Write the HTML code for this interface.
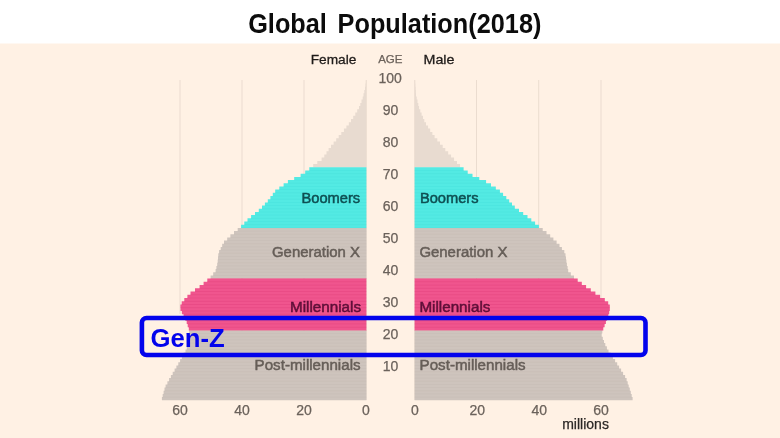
<!DOCTYPE html>
<html><head><meta charset="utf-8"><title>Global Population(2018)</title>
<style>
html,body{margin:0;padding:0;background:#fff;}
body{width:780px;height:438px;overflow:hidden;position:relative;font-family:"Liberation Sans",Arial,sans-serif;}
#chart{position:absolute;left:0;top:0;}
svg text{font-family:"Liberation Sans",Arial,sans-serif;}
</style></head><body>
<svg id="chart" width="780" height="438" viewBox="0 0 780 438">
<defs><linearGradient id="tg" x1="0" y1="0" x2="0" y2="1"><stop offset="0" stop-color="#fff"/><stop offset="1" stop-color="#FFF1E4"/></linearGradient><filter id="bl" x="-2%" y="-2%" width="104%" height="104%"><feGaussianBlur stdDeviation="0.45"/></filter></defs>
<rect x="0" y="44" width="780" height="394" fill="#FFF1E4"/>
<rect x="0" y="42.5" width="780" height="2" fill="url(#tg)"/>
<g id="grid"><rect x="179.5" y="80" width="1" height="234" fill="#EBDCCF"/><rect x="241.5" y="80" width="1" height="320" fill="#EBDCCF"/><rect x="303.5" y="80" width="1" height="320" fill="#EBDCCF"/><rect x="365.7" y="80" width="1" height="320" fill="#EBDCCF"/><rect x="414.3" y="80" width="1" height="320" fill="#EBDCCF"/><rect x="476.0" y="80" width="1" height="320" fill="#EBDCCF"/><rect x="538.2" y="80" width="1" height="320" fill="#EBDCCF"/><rect x="600.5" y="80" width="1" height="320" fill="#EBDCCF"/></g>
<g id="bars" filter="url(#bl)"><path d="M366.4,80.3L365.9,80.3L365.9,83.5L365.5,83.5L365.5,86.7L365.0,86.7L365.0,90.0L364.3,90.0L364.3,93.2L363.5,93.2L363.5,96.4L362.7,96.4L362.7,99.6L361.5,99.6L361.5,102.9L360.3,102.9L360.3,106.1L359.0,106.1L359.0,109.3L357.2,109.3L357.2,112.5L355.3,112.5L355.3,115.7L353.2,115.7L353.2,119.0L351.0,119.0L351.0,122.2L348.8,122.2L348.8,125.4L346.4,125.4L346.4,128.6L343.9,128.6L343.9,131.9L341.3,131.9L341.3,135.1L338.7,135.1L338.7,138.3L336.2,138.3L336.2,141.5L333.6,141.5L333.6,144.7L331.0,144.7L331.0,148.0L328.6,148.0L328.6,151.2L326.5,151.2L326.5,154.4L324.3,154.4L324.3,157.6L321.6,157.6L321.6,160.9L317.3,160.9L317.3,164.1L313.2,164.1L313.2,167.3L366.4,167.3Z" fill="#E8DBD0"/><path d="M414.6,80.3L415.1,80.3L415.1,83.5L415.3,83.5L415.3,86.7L415.6,86.7L415.6,90.0L415.8,90.0L415.8,93.2L416.0,93.2L416.0,96.4L416.7,96.4L416.7,99.6L417.5,99.6L417.5,102.9L418.3,102.9L418.3,106.1L419.1,106.1L419.1,109.3L420.3,109.3L420.3,112.5L421.6,112.5L421.6,115.7L423.0,115.7L423.0,119.0L424.3,119.0L424.3,122.2L426.0,122.2L426.0,125.4L428.1,125.4L428.1,128.6L430.2,128.6L430.2,131.9L432.4,131.9L432.4,135.1L434.6,135.1L434.6,138.3L437.3,138.3L437.3,141.5L440.0,141.5L440.0,144.7L442.7,144.7L442.7,148.0L445.3,148.0L445.3,151.2L448.2,151.2L448.2,154.4L451.1,154.4L451.1,157.6L454.1,157.6L454.1,160.9L457.0,160.9L457.0,164.1L460.1,164.1L460.1,167.3L414.6,167.3Z" fill="#E8DBD0"/><path d="M366.4,167.3L309.3,167.3L309.3,170.5L305.2,170.5L305.2,173.7L300.6,173.7L300.6,176.9L294.2,176.9L294.2,180.1L287.9,180.1L287.9,183.2L283.6,183.2L283.6,186.4L279.3,186.4L279.3,189.6L275.2,189.6L275.2,192.8L272.8,192.8L272.8,196.0L270.4,196.0L270.4,199.2L267.8,199.2L267.8,202.4L264.9,202.4L264.9,205.6L262.0,205.6L262.0,208.8L258.8,208.8L258.8,212.0L255.0,212.0L255.0,215.1L251.1,215.1L251.1,218.3L247.5,218.3L247.5,221.5L244.3,221.5L244.3,224.7L241.1,224.7L241.1,227.9L366.4,227.9Z" fill="#52EAE3"/><path d="M414.6,167.3L463.6,167.3L463.6,170.5L467.7,170.5L467.7,173.7L472.5,173.7L472.5,176.9L479.3,176.9L479.3,180.1L486.1,180.1L486.1,183.2L491.0,183.2L491.0,186.4L495.8,186.4L495.8,189.6L499.9,189.6L499.9,192.8L503.1,192.8L503.1,196.0L506.3,196.0L506.3,199.2L509.2,199.2L509.2,202.4L512.0,202.4L512.0,205.6L514.8,205.6L514.8,208.8L519.0,208.8L519.0,212.0L523.2,212.0L523.2,215.1L527.5,215.1L527.5,218.3L531.3,218.3L531.3,221.5L535.1,221.5L535.1,224.7L538.9,224.7L538.9,227.9L414.6,227.9Z" fill="#52EAE3"/><path d="M366.4,227.9L237.7,227.9L237.7,231.1L234.0,231.1L234.0,234.2L230.4,234.2L230.4,237.4L227.2,237.4L227.2,240.6L224.0,240.6L224.0,243.7L222.2,243.7L222.2,246.9L220.7,246.9L220.7,250.1L219.1,250.1L219.1,253.2L218.3,253.2L218.3,256.4L218.0,256.4L218.0,259.6L217.7,259.6L217.7,262.8L217.2,262.8L217.2,265.9L216.4,265.9L216.4,269.1L215.6,269.1L215.6,272.3L213.2,272.3L213.2,275.4L210.6,275.4L210.6,278.6L366.4,278.6Z" fill="#CEC4BD"/><path d="M414.6,227.9L542.7,227.9L542.7,231.1L546.5,231.1L546.5,234.2L550.2,234.2L550.2,237.4L553.4,237.4L553.4,240.6L556.6,240.6L556.6,243.7L559.5,243.7L559.5,246.9L561.9,246.9L561.9,250.1L564.3,250.1L564.3,253.2L565.5,253.2L565.5,256.4L566.0,256.4L566.0,259.6L566.4,259.6L566.4,262.8L566.9,262.8L566.9,265.9L567.6,265.9L567.6,269.1L568.2,269.1L568.2,272.3L570.8,272.3L570.8,275.4L574.0,275.4L574.0,278.6L414.6,278.6Z" fill="#CEC4BD"/><path d="M366.4,278.6L207.3,278.6L207.3,281.8L203.6,281.8L203.6,285.1L199.6,285.1L199.6,288.3L195.0,288.3L195.0,291.6L190.5,291.6L190.5,294.8L187.4,294.8L187.4,298.0L184.3,298.0L184.3,301.3L181.7,301.3L181.7,304.5L180.4,304.5L180.4,307.7L180.5,307.7L180.5,311.0L181.9,311.0L181.9,314.2L183.6,314.2L183.6,317.4L185.3,317.4L185.3,320.7L186.7,320.7L186.7,323.9L187.7,323.9L187.7,327.2L188.8,327.2L188.8,330.4L366.4,330.4Z" fill="#F0548E"/><path d="M414.6,278.6L577.7,278.6L577.7,281.8L581.8,281.8L581.8,285.1L586.1,285.1L586.1,288.3L590.8,288.3L590.8,291.6L595.4,291.6L595.4,294.8L600.1,294.8L600.1,298.0L604.8,298.0L604.8,301.3L608.2,301.3L608.2,304.5L609.8,304.5L609.8,307.7L609.8,307.7L609.8,311.0L609.2,311.0L609.2,314.2L608.3,314.2L608.3,317.4L607.1,317.4L607.1,320.7L605.9,320.7L605.9,323.9L604.6,323.9L604.6,327.2L603.3,327.2L603.3,330.4L414.6,330.4Z" fill="#F0548E"/><path d="M366.4,330.4L189.1,330.4L189.1,333.6L188.6,333.6L188.6,336.8L188.2,336.8L188.2,339.9L187.7,339.9L187.7,343.1L187.2,343.1L187.2,346.3L186.8,346.3L186.8,349.5L185.5,349.5L185.5,352.6L183.7,352.6L183.7,355.8L181.9,355.8L181.9,359.0L180.1,359.0L180.1,362.2L178.3,362.2L178.3,365.4L176.4,365.4L176.4,368.5L174.6,368.5L174.6,371.7L172.7,371.7L172.7,374.9L170.9,374.9L170.9,378.1L169.1,378.1L169.1,381.2L167.4,381.2L167.4,384.4L165.6,384.4L165.6,387.6L164.5,387.6L164.5,390.8L163.6,390.8L163.6,393.9L162.7,393.9L162.7,397.1L161.9,397.1L161.9,400.3L366.4,400.3Z" fill="#CEC4BD"/><path d="M414.6,330.4L602.3,330.4L602.3,333.6L601.6,333.6L601.6,336.8L602.8,336.8L602.8,339.9L604.0,339.9L604.0,343.1L605.3,343.1L605.3,346.3L606.9,346.3L606.9,349.5L608.5,349.5L608.5,352.6L610.6,352.6L610.6,355.8L612.9,355.8L612.9,359.0L615.1,359.0L615.1,362.2L617.2,362.2L617.2,365.4L619.1,365.4L619.1,368.5L621.1,368.5L621.1,371.7L623.1,371.7L623.1,374.9L625.1,374.9L625.1,378.1L626.6,378.1L626.6,381.2L627.7,381.2L627.7,384.4L628.7,384.4L628.7,387.6L629.8,387.6L629.8,390.8L630.8,390.8L630.8,393.9L631.7,393.9L631.7,397.1L632.6,397.1L632.6,400.3L414.6,400.3Z" fill="#CEC4BD"/></g>
<g id="stripes"><rect x="162.7" y="396.7" width="203.7" height="0.8" fill="rgba(170,160,150,0.12)"/><rect x="414.6" y="396.7" width="217.1" height="0.8" fill="rgba(170,160,150,0.12)"/><rect x="163.6" y="393.5" width="202.8" height="0.8" fill="rgba(170,160,150,0.12)"/><rect x="414.6" y="393.5" width="216.2" height="0.8" fill="rgba(170,160,150,0.12)"/><rect x="164.5" y="390.4" width="201.9" height="0.8" fill="rgba(170,160,150,0.12)"/><rect x="414.6" y="390.4" width="215.1" height="0.8" fill="rgba(170,160,150,0.12)"/><rect x="165.6" y="387.2" width="200.8" height="0.8" fill="rgba(170,160,150,0.12)"/><rect x="414.6" y="387.2" width="214.1" height="0.8" fill="rgba(170,160,150,0.12)"/><rect x="167.4" y="384.0" width="199.0" height="0.8" fill="rgba(170,160,150,0.12)"/><rect x="414.6" y="384.0" width="213.1" height="0.8" fill="rgba(170,160,150,0.12)"/><rect x="169.1" y="380.8" width="197.3" height="0.8" fill="rgba(170,160,150,0.12)"/><rect x="414.6" y="380.8" width="212.0" height="0.8" fill="rgba(170,160,150,0.12)"/><rect x="170.9" y="377.7" width="195.5" height="0.8" fill="rgba(170,160,150,0.12)"/><rect x="414.6" y="377.7" width="210.5" height="0.8" fill="rgba(170,160,150,0.12)"/><rect x="172.7" y="374.5" width="193.7" height="0.8" fill="rgba(170,160,150,0.12)"/><rect x="414.6" y="374.5" width="208.5" height="0.8" fill="rgba(170,160,150,0.12)"/><rect x="174.6" y="371.3" width="191.8" height="0.8" fill="rgba(170,160,150,0.12)"/><rect x="414.6" y="371.3" width="206.5" height="0.8" fill="rgba(170,160,150,0.12)"/><rect x="176.4" y="368.1" width="190.0" height="0.8" fill="rgba(170,160,150,0.12)"/><rect x="414.6" y="368.1" width="204.5" height="0.8" fill="rgba(170,160,150,0.12)"/><rect x="178.3" y="365.0" width="188.1" height="0.8" fill="rgba(170,160,150,0.12)"/><rect x="414.6" y="365.0" width="202.6" height="0.8" fill="rgba(170,160,150,0.12)"/><rect x="180.1" y="361.8" width="186.3" height="0.8" fill="rgba(170,160,150,0.12)"/><rect x="414.6" y="361.8" width="200.5" height="0.8" fill="rgba(170,160,150,0.12)"/><rect x="181.9" y="358.6" width="184.5" height="0.8" fill="rgba(170,160,150,0.12)"/><rect x="414.6" y="358.6" width="198.3" height="0.8" fill="rgba(170,160,150,0.12)"/><rect x="183.7" y="355.4" width="182.7" height="0.8" fill="rgba(170,160,150,0.12)"/><rect x="414.6" y="355.4" width="196.0" height="0.8" fill="rgba(170,160,150,0.12)"/><rect x="185.5" y="352.2" width="180.9" height="0.8" fill="rgba(170,160,150,0.12)"/><rect x="414.6" y="352.2" width="193.9" height="0.8" fill="rgba(170,160,150,0.12)"/><rect x="186.8" y="349.1" width="179.6" height="0.8" fill="rgba(170,160,150,0.12)"/><rect x="414.6" y="349.1" width="192.3" height="0.8" fill="rgba(170,160,150,0.12)"/><rect x="187.2" y="345.9" width="179.2" height="0.8" fill="rgba(170,160,150,0.12)"/><rect x="414.6" y="345.9" width="190.7" height="0.8" fill="rgba(170,160,150,0.12)"/><rect x="187.7" y="342.7" width="178.7" height="0.8" fill="rgba(170,160,150,0.12)"/><rect x="414.6" y="342.7" width="189.4" height="0.8" fill="rgba(170,160,150,0.12)"/><rect x="188.2" y="339.5" width="178.2" height="0.8" fill="rgba(170,160,150,0.12)"/><rect x="414.6" y="339.5" width="188.2" height="0.8" fill="rgba(170,160,150,0.12)"/><rect x="188.6" y="336.4" width="177.8" height="0.8" fill="rgba(170,160,150,0.12)"/><rect x="414.6" y="336.4" width="187.0" height="0.8" fill="rgba(170,160,150,0.12)"/><rect x="189.1" y="333.2" width="177.3" height="0.8" fill="rgba(170,160,150,0.12)"/><rect x="414.6" y="333.2" width="187.0" height="0.8" fill="rgba(170,160,150,0.12)"/><rect x="189.1" y="330.0" width="177.3" height="0.8" fill="rgba(215,50,110,0.30)"/><rect x="414.6" y="330.0" width="187.7" height="0.8" fill="rgba(215,50,110,0.30)"/><rect x="188.7" y="326.8" width="177.7" height="0.8" fill="rgba(215,50,110,0.30)"/><rect x="414.6" y="326.8" width="188.7" height="0.8" fill="rgba(215,50,110,0.30)"/><rect x="187.7" y="323.5" width="178.7" height="0.8" fill="rgba(215,50,110,0.30)"/><rect x="414.6" y="323.5" width="190.0" height="0.8" fill="rgba(215,50,110,0.30)"/><rect x="186.7" y="320.3" width="179.7" height="0.8" fill="rgba(215,50,110,0.30)"/><rect x="414.6" y="320.3" width="191.3" height="0.8" fill="rgba(215,50,110,0.30)"/><rect x="185.3" y="317.1" width="181.1" height="0.8" fill="rgba(215,50,110,0.30)"/><rect x="414.6" y="317.1" width="192.5" height="0.8" fill="rgba(215,50,110,0.30)"/><rect x="183.6" y="313.8" width="182.8" height="0.8" fill="rgba(215,50,110,0.30)"/><rect x="414.6" y="313.8" width="193.7" height="0.8" fill="rgba(215,50,110,0.30)"/><rect x="181.9" y="310.6" width="184.5" height="0.8" fill="rgba(215,50,110,0.30)"/><rect x="414.6" y="310.6" width="194.6" height="0.8" fill="rgba(215,50,110,0.30)"/><rect x="180.5" y="307.3" width="185.9" height="0.8" fill="rgba(215,50,110,0.30)"/><rect x="414.6" y="307.3" width="195.2" height="0.8" fill="rgba(215,50,110,0.30)"/><rect x="181.7" y="304.1" width="184.7" height="0.8" fill="rgba(215,50,110,0.30)"/><rect x="414.6" y="304.1" width="193.7" height="0.8" fill="rgba(215,50,110,0.30)"/><rect x="184.3" y="300.9" width="182.1" height="0.8" fill="rgba(215,50,110,0.30)"/><rect x="414.6" y="300.9" width="190.2" height="0.8" fill="rgba(215,50,110,0.30)"/><rect x="187.4" y="297.6" width="179.0" height="0.8" fill="rgba(215,50,110,0.30)"/><rect x="414.6" y="297.6" width="185.5" height="0.8" fill="rgba(215,50,110,0.30)"/><rect x="190.5" y="294.4" width="175.9" height="0.8" fill="rgba(215,50,110,0.30)"/><rect x="414.6" y="294.4" width="180.8" height="0.8" fill="rgba(215,50,110,0.30)"/><rect x="195.0" y="291.2" width="171.4" height="0.8" fill="rgba(215,50,110,0.30)"/><rect x="414.6" y="291.2" width="176.2" height="0.8" fill="rgba(215,50,110,0.30)"/><rect x="199.6" y="287.9" width="166.8" height="0.8" fill="rgba(215,50,110,0.30)"/><rect x="414.6" y="287.9" width="171.5" height="0.8" fill="rgba(215,50,110,0.30)"/><rect x="203.6" y="284.7" width="162.8" height="0.8" fill="rgba(215,50,110,0.30)"/><rect x="414.6" y="284.7" width="167.3" height="0.8" fill="rgba(215,50,110,0.30)"/><rect x="207.3" y="281.4" width="159.1" height="0.8" fill="rgba(215,50,110,0.30)"/><rect x="414.6" y="281.4" width="163.1" height="0.8" fill="rgba(215,50,110,0.30)"/><rect x="210.6" y="278.2" width="155.8" height="0.8" fill="rgba(215,50,110,0.30)"/><rect x="414.6" y="278.2" width="159.4" height="0.8" fill="rgba(215,50,110,0.30)"/><rect x="213.3" y="275.0" width="153.1" height="0.8" fill="rgba(170,160,150,0.12)"/><rect x="414.6" y="275.0" width="156.2" height="0.8" fill="rgba(170,160,150,0.12)"/><rect x="215.6" y="271.9" width="150.8" height="0.8" fill="rgba(170,160,150,0.12)"/><rect x="414.6" y="271.9" width="153.6" height="0.8" fill="rgba(170,160,150,0.12)"/><rect x="216.4" y="268.7" width="150.0" height="0.8" fill="rgba(170,160,150,0.12)"/><rect x="414.6" y="268.7" width="153.0" height="0.8" fill="rgba(170,160,150,0.12)"/><rect x="217.2" y="265.5" width="149.2" height="0.8" fill="rgba(170,160,150,0.12)"/><rect x="414.6" y="265.5" width="152.3" height="0.8" fill="rgba(170,160,150,0.12)"/><rect x="217.7" y="262.4" width="148.7" height="0.8" fill="rgba(170,160,150,0.12)"/><rect x="414.6" y="262.4" width="151.8" height="0.8" fill="rgba(170,160,150,0.12)"/><rect x="218.0" y="259.2" width="148.4" height="0.8" fill="rgba(170,160,150,0.12)"/><rect x="414.6" y="259.2" width="151.3" height="0.8" fill="rgba(170,160,150,0.12)"/><rect x="218.3" y="256.0" width="148.1" height="0.8" fill="rgba(170,160,150,0.12)"/><rect x="414.6" y="256.0" width="150.9" height="0.8" fill="rgba(170,160,150,0.12)"/><rect x="219.1" y="252.8" width="147.3" height="0.8" fill="rgba(170,160,150,0.12)"/><rect x="414.6" y="252.8" width="149.7" height="0.8" fill="rgba(170,160,150,0.12)"/><rect x="220.7" y="249.7" width="145.7" height="0.8" fill="rgba(170,160,150,0.12)"/><rect x="414.6" y="249.7" width="147.3" height="0.8" fill="rgba(170,160,150,0.12)"/><rect x="222.3" y="246.5" width="144.1" height="0.8" fill="rgba(170,160,150,0.12)"/><rect x="414.6" y="246.5" width="144.9" height="0.8" fill="rgba(170,160,150,0.12)"/><rect x="224.1" y="243.3" width="142.3" height="0.8" fill="rgba(170,160,150,0.12)"/><rect x="414.6" y="243.3" width="141.9" height="0.8" fill="rgba(170,160,150,0.12)"/><rect x="227.2" y="240.2" width="139.2" height="0.8" fill="rgba(170,160,150,0.12)"/><rect x="414.6" y="240.2" width="138.8" height="0.8" fill="rgba(170,160,150,0.12)"/><rect x="230.4" y="237.0" width="136.0" height="0.8" fill="rgba(170,160,150,0.12)"/><rect x="414.6" y="237.0" width="135.6" height="0.8" fill="rgba(170,160,150,0.12)"/><rect x="234.0" y="233.8" width="132.4" height="0.8" fill="rgba(170,160,150,0.12)"/><rect x="414.6" y="233.8" width="131.9" height="0.8" fill="rgba(170,160,150,0.12)"/><rect x="237.7" y="230.7" width="128.7" height="0.8" fill="rgba(170,160,150,0.12)"/><rect x="414.6" y="230.7" width="128.1" height="0.8" fill="rgba(170,160,150,0.12)"/><rect x="241.1" y="227.5" width="125.3" height="0.8" fill="rgba(40,200,200,0.14)"/><rect x="414.6" y="227.5" width="124.3" height="0.8" fill="rgba(40,200,200,0.14)"/><rect x="244.3" y="224.3" width="122.1" height="0.8" fill="rgba(40,200,200,0.14)"/><rect x="414.6" y="224.3" width="120.5" height="0.8" fill="rgba(40,200,200,0.14)"/><rect x="247.5" y="221.1" width="118.9" height="0.8" fill="rgba(40,200,200,0.14)"/><rect x="414.6" y="221.1" width="116.7" height="0.8" fill="rgba(40,200,200,0.14)"/><rect x="251.1" y="217.9" width="115.3" height="0.8" fill="rgba(40,200,200,0.14)"/><rect x="414.6" y="217.9" width="112.9" height="0.8" fill="rgba(40,200,200,0.14)"/><rect x="255.0" y="214.7" width="111.4" height="0.8" fill="rgba(40,200,200,0.14)"/><rect x="414.6" y="214.7" width="108.6" height="0.8" fill="rgba(40,200,200,0.14)"/><rect x="258.8" y="211.6" width="107.6" height="0.8" fill="rgba(40,200,200,0.14)"/><rect x="414.6" y="211.6" width="104.3" height="0.8" fill="rgba(40,200,200,0.14)"/><rect x="262.0" y="208.4" width="104.4" height="0.8" fill="rgba(40,200,200,0.14)"/><rect x="414.6" y="208.4" width="100.2" height="0.8" fill="rgba(40,200,200,0.14)"/><rect x="264.9" y="205.2" width="101.5" height="0.8" fill="rgba(40,200,200,0.14)"/><rect x="414.6" y="205.2" width="97.4" height="0.8" fill="rgba(40,200,200,0.14)"/><rect x="267.8" y="202.0" width="98.6" height="0.8" fill="rgba(40,200,200,0.14)"/><rect x="414.6" y="202.0" width="94.6" height="0.8" fill="rgba(40,200,200,0.14)"/><rect x="270.4" y="198.8" width="96.0" height="0.8" fill="rgba(40,200,200,0.14)"/><rect x="414.6" y="198.8" width="91.7" height="0.8" fill="rgba(40,200,200,0.14)"/><rect x="272.8" y="195.6" width="93.6" height="0.8" fill="rgba(40,200,200,0.14)"/><rect x="414.6" y="195.6" width="88.5" height="0.8" fill="rgba(40,200,200,0.14)"/><rect x="275.2" y="192.4" width="91.2" height="0.8" fill="rgba(40,200,200,0.14)"/><rect x="414.6" y="192.4" width="85.3" height="0.8" fill="rgba(40,200,200,0.14)"/><rect x="279.3" y="189.2" width="87.1" height="0.8" fill="rgba(40,200,200,0.14)"/><rect x="414.6" y="189.2" width="81.2" height="0.8" fill="rgba(40,200,200,0.14)"/><rect x="283.6" y="186.0" width="82.8" height="0.8" fill="rgba(40,200,200,0.14)"/><rect x="414.6" y="186.0" width="76.3" height="0.8" fill="rgba(40,200,200,0.14)"/><rect x="287.9" y="182.8" width="78.5" height="0.8" fill="rgba(40,200,200,0.14)"/><rect x="414.6" y="182.8" width="71.5" height="0.8" fill="rgba(40,200,200,0.14)"/><rect x="294.2" y="179.7" width="72.2" height="0.8" fill="rgba(40,200,200,0.14)"/><rect x="414.6" y="179.7" width="64.7" height="0.8" fill="rgba(40,200,200,0.14)"/><rect x="300.6" y="176.5" width="65.8" height="0.8" fill="rgba(40,200,200,0.14)"/><rect x="414.6" y="176.5" width="57.8" height="0.8" fill="rgba(40,200,200,0.14)"/><rect x="305.2" y="173.3" width="61.2" height="0.8" fill="rgba(40,200,200,0.14)"/><rect x="414.6" y="173.3" width="53.1" height="0.8" fill="rgba(40,200,200,0.14)"/><rect x="309.3" y="170.1" width="57.1" height="0.8" fill="rgba(40,200,200,0.14)"/><rect x="414.6" y="170.1" width="49.0" height="0.8" fill="rgba(40,200,200,0.14)"/></g>
<g id="labels"><text x="390.6" y="370.9" font-size="14" fill="#6B625B" stroke="#6B625B" stroke-width="0.25" text-anchor="middle" font-weight="normal">10</text><text x="390.6" y="338.9" font-size="14" fill="#6B625B" stroke="#6B625B" stroke-width="0.25" text-anchor="middle" font-weight="normal">20</text><text x="390.6" y="306.9" font-size="14" fill="#6B625B" stroke="#6B625B" stroke-width="0.25" text-anchor="middle" font-weight="normal">30</text><text x="390.6" y="274.9" font-size="14" fill="#6B625B" stroke="#6B625B" stroke-width="0.25" text-anchor="middle" font-weight="normal">40</text><text x="390.6" y="242.9" font-size="14" fill="#6B625B" stroke="#6B625B" stroke-width="0.25" text-anchor="middle" font-weight="normal">50</text><text x="390.6" y="210.9" font-size="14" fill="#6B625B" stroke="#6B625B" stroke-width="0.25" text-anchor="middle" font-weight="normal">60</text><text x="390.6" y="178.9" font-size="14" fill="#6B625B" stroke="#6B625B" stroke-width="0.25" text-anchor="middle" font-weight="normal">70</text><text x="390.6" y="146.9" font-size="14" fill="#6B625B" stroke="#6B625B" stroke-width="0.25" text-anchor="middle" font-weight="normal">80</text><text x="390.6" y="114.9" font-size="14" fill="#6B625B" stroke="#6B625B" stroke-width="0.25" text-anchor="middle" font-weight="normal">90</text><text x="390.1" y="82.9" font-size="14" fill="#6B625B" stroke="#6B625B" stroke-width="0.25" text-anchor="middle" font-weight="normal">100</text><text x="390.3" y="63.1" font-size="11.5" fill="#6B625B" stroke="#6B625B" stroke-width="0.25" text-anchor="middle" font-weight="normal">AGE</text><text x="356.3" y="63.5" font-size="13.7" fill="#1f1b19" stroke="#1f1b19" stroke-width="0.3" text-anchor="end">Female</text><text x="423.5" y="63.5" font-size="13.7" fill="#1f1b19" stroke="#1f1b19" stroke-width="0.3" textLength="31" lengthAdjust="spacingAndGlyphs">Male</text><text x="180" y="415.2" font-size="14" fill="#6B625B" stroke="#6B625B" stroke-width="0.25" text-anchor="middle" font-weight="normal">60</text><text x="242" y="415.2" font-size="14" fill="#6B625B" stroke="#6B625B" stroke-width="0.25" text-anchor="middle" font-weight="normal">40</text><text x="304" y="415.2" font-size="14" fill="#6B625B" stroke="#6B625B" stroke-width="0.25" text-anchor="middle" font-weight="normal">20</text><text x="366" y="415.2" font-size="14" fill="#6B625B" stroke="#6B625B" stroke-width="0.25" text-anchor="middle" font-weight="normal">0</text><text x="415" y="415.2" font-size="14" fill="#6B625B" stroke="#6B625B" stroke-width="0.25" text-anchor="middle" font-weight="normal">0</text><text x="477.2" y="415.2" font-size="14" fill="#6B625B" stroke="#6B625B" stroke-width="0.25" text-anchor="middle" font-weight="normal">20</text><text x="539.3" y="415.2" font-size="14" fill="#6B625B" stroke="#6B625B" stroke-width="0.25" text-anchor="middle" font-weight="normal">40</text><text x="601" y="415.2" font-size="14" fill="#6B625B" stroke="#6B625B" stroke-width="0.25" text-anchor="middle" font-weight="normal">60</text><text x="608.9" y="428.9" font-size="14" fill="#2b2725" stroke="#2b2725" stroke-width="0.25" text-anchor="end" font-weight="normal">millions</text><text x="360.2" y="203.4" font-size="14.9" fill="#0E4F52" stroke="#0E4F52" stroke-width="0.5" text-anchor="end" textLength="58.7" lengthAdjust="spacingAndGlyphs">Boomers</text><text x="419.9" y="203.4" font-size="14.9" fill="#0E4F52" stroke="#0E4F52" stroke-width="0.5" text-anchor="start" textLength="58.7" lengthAdjust="spacingAndGlyphs">Boomers</text><text x="360.0" y="257.3" font-size="14.9" fill="#665E58" stroke="#665E58" stroke-width="0.5" text-anchor="end" textLength="88" lengthAdjust="spacingAndGlyphs">Generation X</text><text x="419.4" y="257.3" font-size="14.9" fill="#665E58" stroke="#665E58" stroke-width="0.5" text-anchor="start" textLength="88" lengthAdjust="spacingAndGlyphs">Generation X</text><text x="361.0" y="311.6" font-size="14.9" fill="#5E0F38" stroke="#5E0F38" stroke-width="0.5" text-anchor="end" textLength="71" lengthAdjust="spacingAndGlyphs">Millennials</text><text x="419.4" y="311.6" font-size="14.9" fill="#5E0F38" stroke="#5E0F38" stroke-width="0.5" text-anchor="start" textLength="71" lengthAdjust="spacingAndGlyphs">Millennials</text><text x="360.6" y="369.8" font-size="14.9" fill="#665E58" stroke="#665E58" stroke-width="0.5" text-anchor="end" textLength="106" lengthAdjust="spacingAndGlyphs">Post-millennials</text><text x="419.6" y="369.8" font-size="14.9" fill="#665E58" stroke="#665E58" stroke-width="0.5" text-anchor="start" textLength="106" lengthAdjust="spacingAndGlyphs">Post-millennials</text></g>
<rect x="141.9" y="318" width="503.6" height="37" rx="4.6" ry="4.6" fill="none" stroke="#0303EC" stroke-width="4.6"/>
<text x="150.6" y="346.6" font-size="25.7" font-weight="bold" fill="#0303EC">Gen-Z</text>
<text x="248.2" y="0" transform="translate(0,32.75) scale(1,1.065)" font-size="25.3" font-weight="bold" fill="#0c0c0c" word-spacing="3.7">Global Population(2018)</text>
</svg>
</body></html>
